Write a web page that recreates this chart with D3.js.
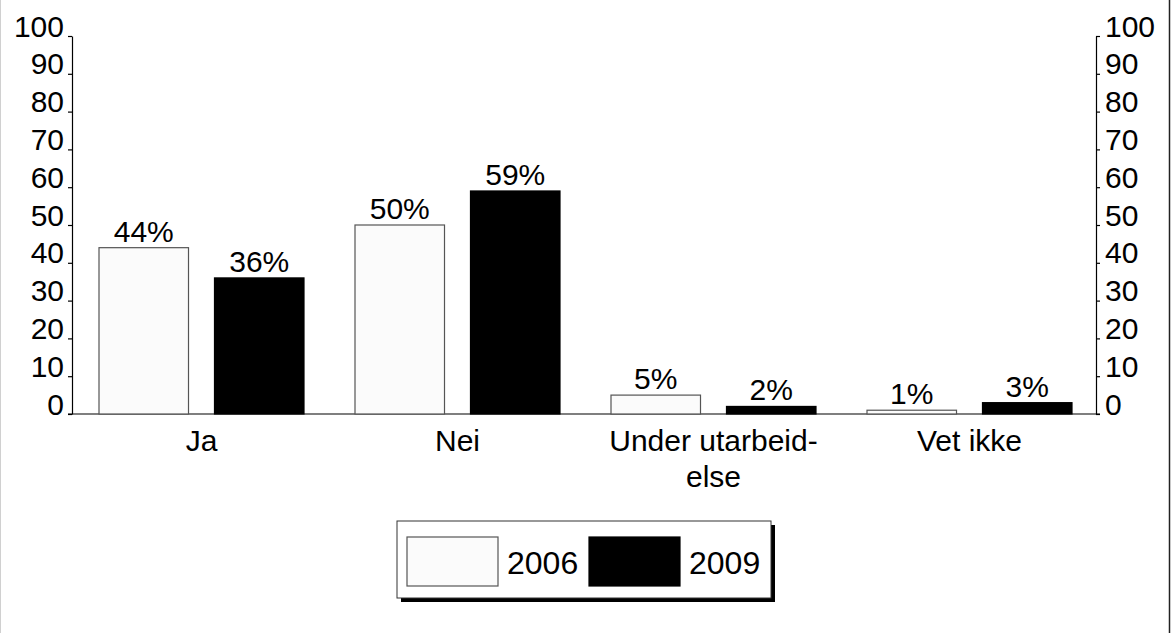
<!DOCTYPE html>
<html>
<head>
<meta charset="utf-8">
<script src="https://cdn.jsdelivr.net/npm/d3@7/dist/d3.min.js"></script>
<style>
  html, body { margin: 0; padding: 0; background: #fff; }
  svg { display: block; font-family: "Liberation Sans", Arial, sans-serif; }
</style>
</head>
<body>
<svg id="chart" width="1171" height="633"></svg>
<script>
// Survey answers, share of respondents (%) per year
const categories = [["Ja"], ["Nei"], ["Under utarbeid-", "else"], ["Vet ikke"]];
const series = ["2006", "2009"];
const values2006 = [44, 50, 5, 1];
const values2009 = [36, 59, 2, 3];
const yTicks = [0, 10, 20, 30, 40, 50, 60, 70, 80, 90, 100];

const seriesValues = [values2006, values2009];
const fills = { "2006": "#fbfbfb", "2009": "#000000" };
const strokes = { "2006": "#555555", "2009": "#000000" };

const svg = d3.select("#chart");
const W = 1171, H = 633;

// Outer frame
svg.append("line").attr("x1", 0.5).attr("x2", 0.5).attr("y1", 0).attr("y2", H)
  .attr("stroke", "#d0d0d0").attr("stroke-width", 1);
svg.append("line").attr("x1", 1169.5).attr("x2", 1169.5).attr("y1", 0).attr("y2", H)
  .attr("stroke", "#222").attr("stroke-width", 1.5);

const plotLeft = 72, plotRight = 1096, plotTop = 36, plotBottom = 414;

const catIdx = categories.map((d, i) => i);
const x = d3.scaleBand().domain(catIdx).range([plotLeft, plotRight]).padding(0);
const xs = d3.scaleBand().domain(series).range([27, 232]).paddingInner(0.225).paddingOuter(0);
const y = d3.scaleLinear().domain([0, 100]).range([plotBottom, plotTop]);

// Axes
const yLeft = d3.axisLeft(y).tickValues(yTicks).tickSize(4).tickSizeOuter(0).tickPadding(4);
const yRight = d3.axisRight(y).tickValues(yTicks).tickSize(4).tickSizeOuter(0).tickPadding(5);

const gL = svg.append("g").attr("transform", `translate(${plotLeft},0)`).call(yLeft);
const gR = svg.append("g").attr("transform", `translate(${plotRight},0)`).call(yRight);
[gL, gR].forEach(g => {
  g.select(".domain").attr("stroke", "#000").attr("stroke-width", 1.2);
  g.selectAll(".tick line").attr("stroke", "#000").attr("stroke-width", 1.2);
  g.selectAll(".tick text").attr("dy", "0").attr("fill", "#000")
    .style("font-size", "30px").style("font-family", "'Liberation Sans', Arial, sans-serif");
});

// Baseline
svg.append("line").attr("x1", plotLeft - 4).attr("x2", plotRight + 4)
  .attr("y1", y(0)).attr("y2", y(0)).attr("stroke", "#000").attr("stroke-width", 1.2);

// Bars
const groups = svg.append("g").selectAll("g").data(catIdx).join("g")
  .attr("transform", d => `translate(${x(d)},0)`);

groups.each(function(ci) {
  const g = d3.select(this);
  series.forEach((s, si) => {
    const v = seriesValues[si][ci];
    g.append("rect")
      .attr("x", xs(s)).attr("width", xs.bandwidth())
      .attr("y", y(v)).attr("height", y(0) - y(v))
      .attr("fill", fills[s]).attr("stroke", strokes[s]).attr("stroke-width", 1.2);
    g.append("text")
      .attr("x", xs(s) + xs.bandwidth() / 2).attr("y", y(v) - 6)
      .attr("text-anchor", "middle").style("font-size", "30px")
      .text(v + "%");
  });
  // Category label (may span two lines)
  const cx = xs(series[0]) + (xs(series[1]) + xs.bandwidth() - xs(series[0])) / 2;
  const t = g.append("text").attr("text-anchor", "middle").style("font-size", "30px");
  categories[ci].forEach((line, li) => {
    t.append("tspan").attr("x", cx).attr("y", 451 + li * 36).text(line);
  });
});

// Legend with drop shadow
const lg = svg.append("g");
const lx = 397, ly = 521, lw = 374, lh = 77;
lg.append("rect").attr("x", lx + 4).attr("y", ly + 4).attr("width", lw).attr("height", lh)
  .attr("fill", "#000");
lg.append("rect").attr("x", lx).attr("y", ly).attr("width", lw).attr("height", lh)
  .attr("fill", "#fff").attr("stroke", "#333").attr("stroke-width", 1);
const legendPos = [{ sx: 407, tx: 507 }, { sx: 589, tx: 689 }];
series.forEach((s, i) => {
  lg.append("rect").attr("x", legendPos[i].sx).attr("y", 537).attr("width", 91).attr("height", 49)
    .attr("fill", fills[s]).attr("stroke", strokes[s]).attr("stroke-width", 1.2);
  lg.append("text").attr("x", legendPos[i].tx).attr("y", 574).style("font-size", "32px").text(s);
});
</script>
</body>
</html>
